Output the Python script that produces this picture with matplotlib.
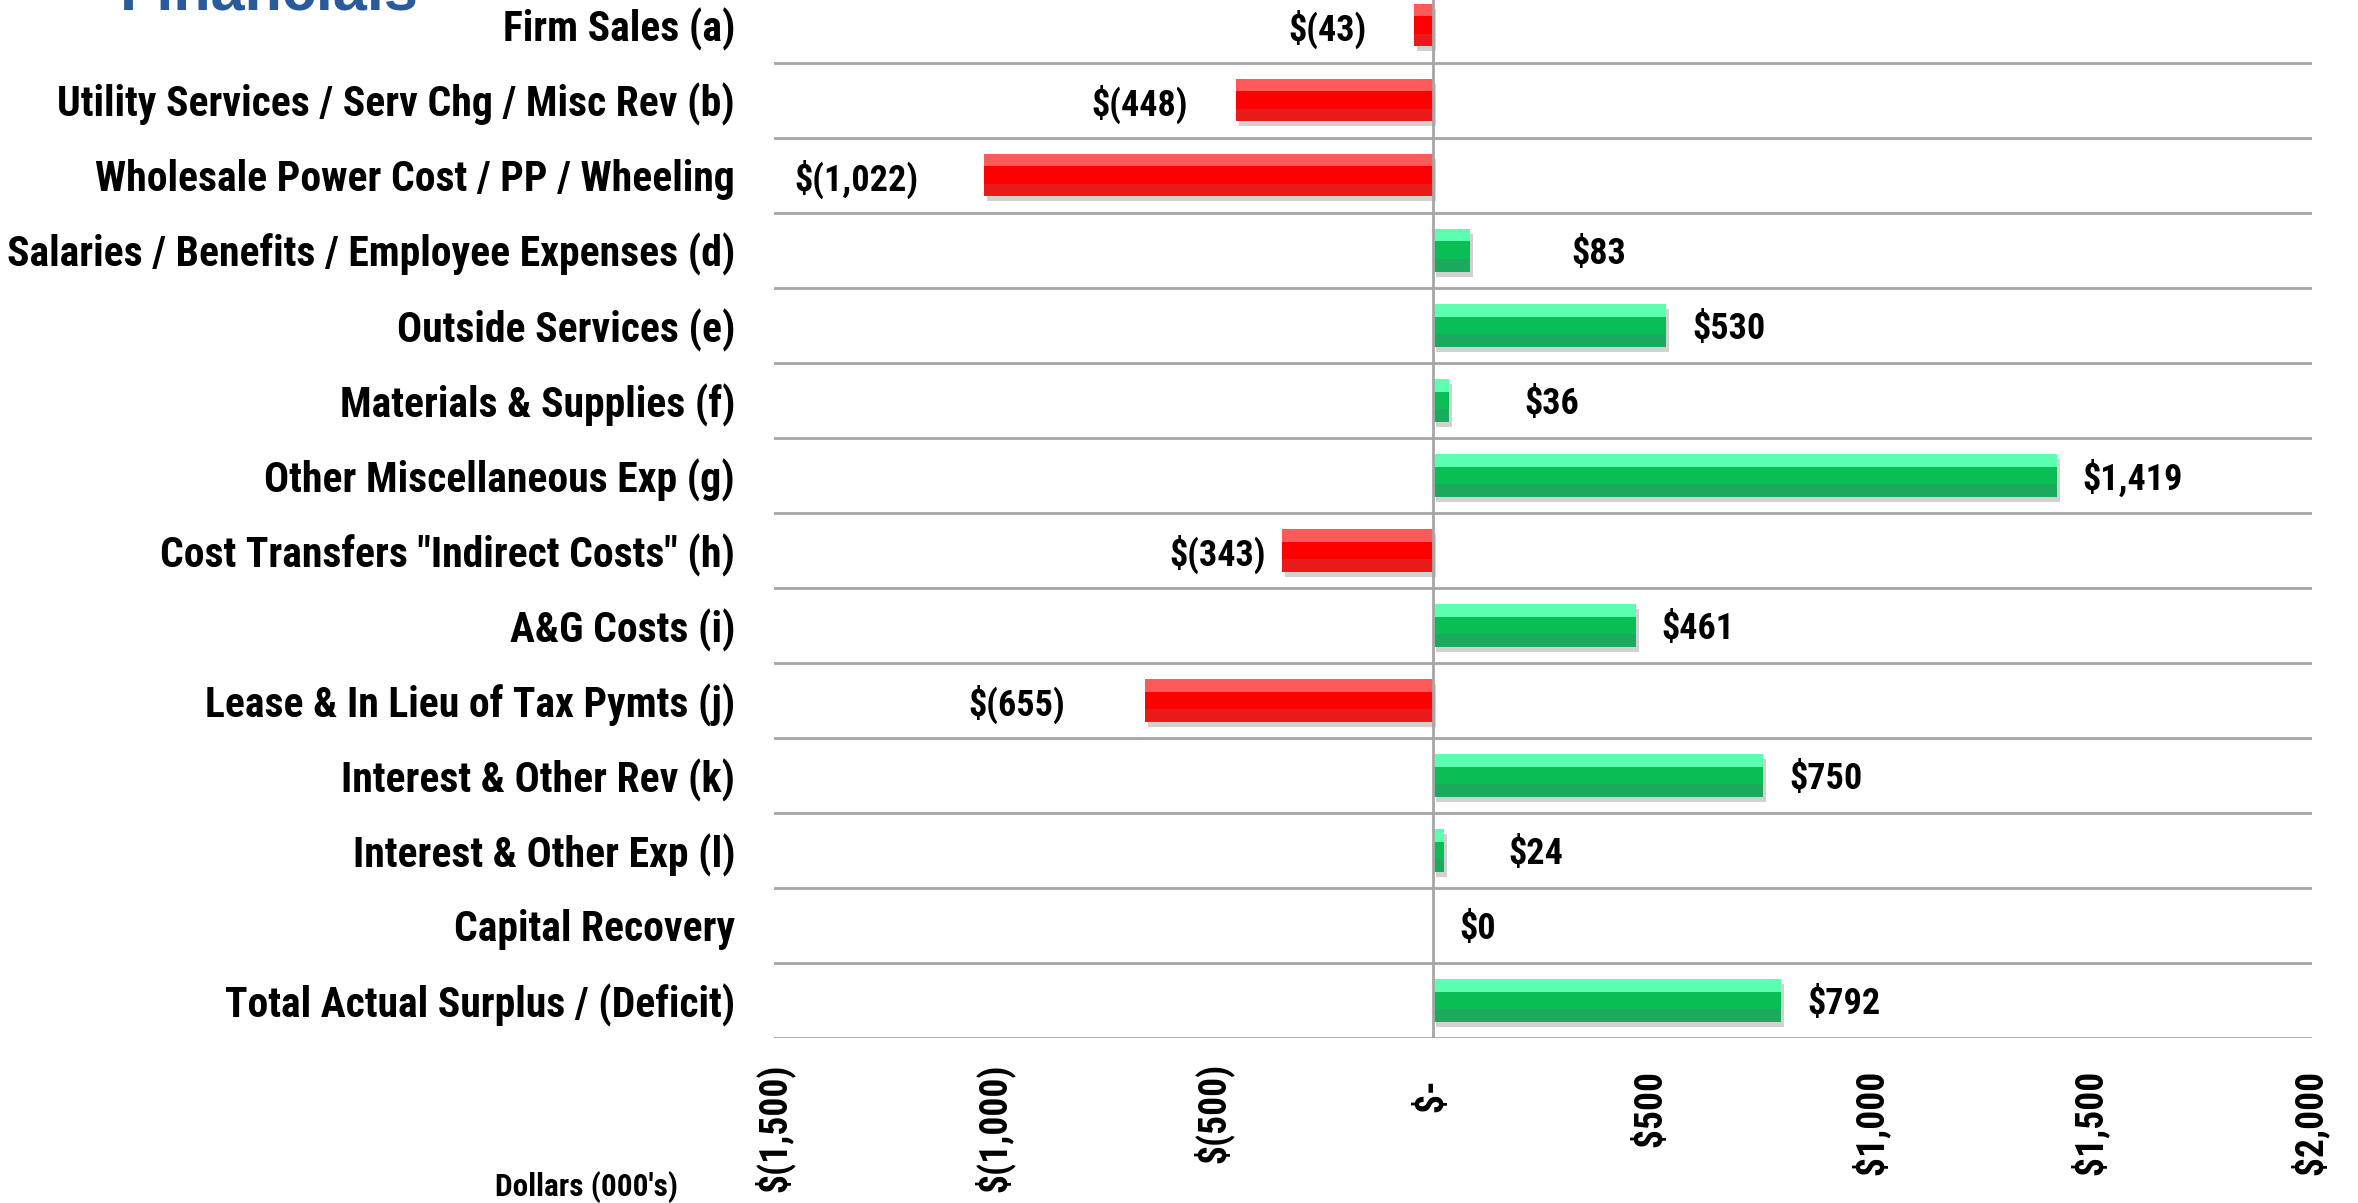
import matplotlib
matplotlib.use("Agg")
import matplotlib.pyplot as plt
import matplotlib.transforms as mtransforms
import numpy as np
from matplotlib import font_manager

categories = [
    "Firm Sales (a)",
    "Utility Services / Serv Chg / Misc Rev (b)",
    "Wholesale Power Cost / PP / Wheeling",
    "Salaries / Benefits / Employee Expenses (d)",
    "Outside Services (e)",
    "Materials & Supplies (f)",
    "Other Miscellaneous Exp (g)",
    'Cost Transfers "Indirect Costs" (h)',
    "A&G Costs (i)",
    "Lease & In Lieu of Tax Pymts (j)",
    "Interest & Other Rev (k)",
    "Interest & Other Exp (l)",
    "Capital Recovery",
    "Total Actual Surplus / (Deficit)",
]
values = [-43, -448, -1022, 83, 530, 36, 1419, -343, 461, -655, 750, 24, 0, 792]
value_labels = ["$(43)", "$(448)", "$(1,022)", "$83", "$530", "$36", "$1,419",
                "$(343)", "$461", "$(655)", "$750", "$24", "$0", "$792"]
# label gap from bar end, in pixels
label_gaps = [48, 48, 66, 102, 26, 75, 26, 17, 26, 80, 27, 65, 26, 26]
tick_values = [-1500, -1000, -500, 0, 500, 1000, 1500, 2000]
tick_labels = ["$(1,500)", "$(1,000)", "$(500)", "$-  ", "$500 ", "$1,000 ", "$1,500 ", "$2,000 "]

names = {f.name for f in font_manager.fontManager.ttflist}
fam = "Liberation Sans"
for cand in ["Liberation Sans Narrow", "Arial Narrow", "Roboto Condensed", "Archivo Narrow",
             "PT Sans Narrow", "Pragati Narrow", "Fira Sans Condensed"]:
    if cand in names:
        fam = cand
        break
plt.rcParams["font.family"] = [fam, "DejaVu Sans"]
plt.rcParams["font.weight"] = "bold"

W, H = 2358, 1203
fig = plt.figure(figsize=(W / 100, H / 100), dpi=100)
ax = fig.add_axes([774 / W, 1 - 1038 / H, 1538 / W, (1038 + 12.5) / H])

y = np.arange(len(categories))
vals = np.array(values, dtype=float)
pos = vals >= 0
h = 0.57
t = 0.17

colors = {
    True: ("#08BE55", "#5CFFB0", "#1BAA5E", "#00A04C"),
    False: ("#FF0000", "#FF5A5A", "#E81A1A", "#E00000"),
}

# shadow
shadow_tr = mtransforms.offset_copy(ax.transData, fig=fig, x=3, y=-5, units="dots")
ax.barh(y, vals, height=h, color="#000000", alpha=0.18, transform=shadow_tr, zorder=2)

for p in (True, False):
    m = pos == p
    mid, top, bot, end = colors[p]
    ax.barh(y[m], vals[m], height=h, color=mid, zorder=3)
    ax.barh(y[m] - h / 2 + t / 2, vals[m], height=t, color=top, zorder=4)
    ax.barh(y[m] + h / 2 - t / 2, vals[m], height=t, color=bot, zorder=4)

ax.axvline(0, color="#A6A6A6", lw=2, zorder=5)

for yi, v, lab, gap in zip(y, vals, value_labels, label_gaps):
    if v >= 0:
        ax.annotate(lab, (v, yi), xytext=(gap * 0.72, 0), textcoords="offset points",
                    ha="left", va="center_baseline", fontsize=26, fontweight="bold", color="black")
    else:
        ax.annotate(lab, (v, yi), xytext=(-gap * 0.72, 0), textcoords="offset points",
                    ha="right", va="center_baseline", fontsize=26, fontweight="bold", color="black")

ax.set_xlim(-1500, 2000)
ax.set_ylim(len(categories) - 0.5, -0.5)
ax.set_yticks(y)
ax.set_yticklabels(categories, fontsize=30, fontweight="bold")
ax.set_xticks(tick_values)
ax.set_xticklabels(tick_labels, rotation=90, fontsize=27, fontweight="bold", va="top")
ax.tick_params(axis="both", length=0)
ax.tick_params(axis="y", pad=28)
ax.tick_params(axis="x", pad=18)

ax.set_yticks(np.arange(len(categories) + 1) - 0.5, minor=True)
ax.tick_params(axis="y", which="minor", length=0)
ax.grid(True, axis="y", which="minor", color="#A6A6A6", lw=2)
ax.grid(False, axis="y", which="major")
ax.grid(False, axis="x")
ax.set_axisbelow(True)
for s in ax.spines.values():
    s.set_visible(False)

fig.text(678 / W, 1 - 1187 / H, "Dollars (000's)", ha="right", va="center",
         fontsize=22.5, fontweight="bold", color="black")
fig.text(120 / W, 1 - 9 / H, "Financials", ha="left", va="baseline",
         fontsize=44, fontweight="bold", color="#2A5A9A", family="Liberation Sans")

fig.savefig("out.png", dpi=100)
